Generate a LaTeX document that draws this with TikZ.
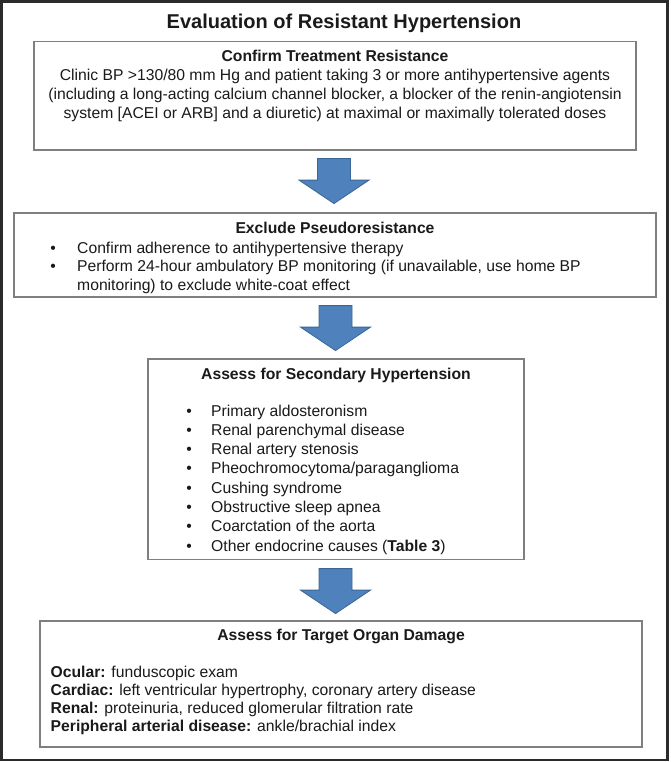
\documentclass[tikz,border=0pt]{standalone}
\usepackage{fontspec}
\setmainfont{Liberation Sans}
\usetikzlibrary{calc}
\definecolor{boxgray}{HTML}{7F7F7F}
\definecolor{framecol}{HTML}{2B2B2B}
\definecolor{arrfill}{HTML}{4F81BD}
\definecolor{arrline}{HTML}{3A6696}
\definecolor{txtcol}{HTML}{1A1A1A}
\begin{document}
\begin{tikzpicture}[x=1pt,y=-1pt,
  box/.style={draw=boxgray,line width=1.2pt,inner sep=0pt,fill=white},
  txt/.style={anchor=base,inner sep=0pt,font=\fontsize{15.7}{19}\selectfont,text=txtcol},
  txtl/.style={txt,anchor=base west},
  hd/.style={txt,font=\fontsize{15.7}{19}\selectfont\bfseries},
  bul/.style={txt},
  blockarrow/.style={fill=arrfill,draw=arrline,line width=0.8pt,line join=miter},
  pics/downarrow/.style={code={
    \draw[blockarrow] (-16.5,0) -- (16.5,0) -- (16.5,21.5) -- (35,21.5) -- (0,45)
      -- (-35,21.5) -- (-16.5,21.5) -- cycle;}}]
\useasboundingbox (0,0) rectangle (670,762);
\node[draw=framecol,line width=2.2pt,inner sep=0pt,minimum width=666pt,minimum height=758.5pt] (frame) at (334.5,380.75) {};
% title
\node[txt,font=\fontsize{20}{24}\selectfont\bfseries] (title) at (344,29) {Evaluation of Resistant Hypertension};
% box 1
\node[box,minimum width=602pt,minimum height=108.5pt] (b1) at (335,95.75) {};
\node[hd] (h1) at (335,62) {Confirm Treatment Resistance};
\node[txt] (l1a) at (335,80.5) {Clinic BP >130/80 mm Hg and patient taking 3 or more antihypertensive agents};
\node[txt] (l1b) at (335,99.5) {(including a long-acting calcium channel blocker, a blocker of the renin-angiotensin};
\node[txt] (l1c) at (335,118.5) {system [ACEI or ARB] and a diuretic) at maximal or maximally tolerated doses};
% box 2
\node[box,minimum width=642pt,minimum height=84pt] (b2) at (335,255) {};
\node[hd] (h2) at (335,233.5) {Exclude Pseudoresistance};
\node[bul] (p2a) at (53,253) {•};
\node[txtl] (l2a) at (77,253) {Confirm adherence to antihypertensive therapy};
\node[bul] (p2b) at (53,271.5) {•};
\node[txtl] (l2b) at (77,271.5) {Perform 24-hour ambulatory BP monitoring (if unavailable, use home BP};
\node[txtl] (l2c) at (77,290) {monitoring) to exclude white-coat effect};
% box 3
\node[box,minimum width=376pt,minimum height=200.5pt] (b3) at (336,459.25) {};
\node[hd] (h3) at (336,379) {Assess for Secondary Hypertension};
\foreach \t [count=\i from 0] in {Primary aldosteronism,Renal parenchymal disease,Renal artery stenosis,Pheochromocytoma/paraganglioma,Cushing syndrome,Obstructive sleep apnea,Coarctation of the aorta,{Other endocrine causes (\textbf{Table 3})}}{
  \node[bul] (p3\i) at (189,416+19.29*\i) {•};
  \node[txtl] (l3\i) at (211,416+19.29*\i) {\t};
}
% box 4
\node[box,minimum width=602pt,minimum height=126pt] (b4) at (341,684) {};
\node[hd] (h4) at (341,640.5) {Assess for Target Organ Damage};
\node[txtl] (l4a) at (50.5,677) {\textbf{Ocular:} funduscopic exam};
\node[txtl] (l4b) at (50.5,695) {\textbf{Cardiac:} left ventricular hypertrophy, coronary artery disease};
\node[txtl] (l4c) at (50.5,713) {\textbf{Renal:} proteinuria, reduced glomerular filtration rate};
\node[txtl] (l4d) at (50.5,731) {\textbf{Peripheral arterial disease:} ankle/brachial index};
% block arrows
\pic at ($(b1.south)+(-1,8)$) {downarrow};
\pic at ($(b2.south)+(0.5,8)$) {downarrow};
\pic at ($(b3.south)+(-0.5,8.5)$) {downarrow};
\end{tikzpicture}
\end{document}
